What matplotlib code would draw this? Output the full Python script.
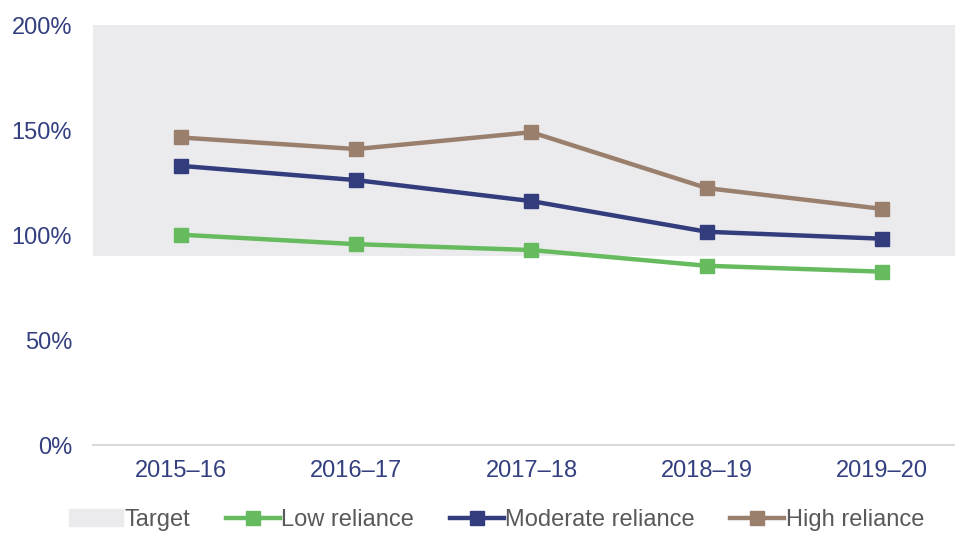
import matplotlib
matplotlib.use('Agg')
import matplotlib.pyplot as plt
import matplotlib.patches as mpatches
from matplotlib.lines import Line2D
from matplotlib.ticker import FuncFormatter

plt.rcParams['font.family'] = ['Liberation Sans', 'DejaVu Sans']

YEARS = ['2015–16', '2016–17', '2017–18', '2018–19', '2019–20']
LOW = [100.2, 95.7, 92.9, 85.4, 82.6]
MODERATE = [133.0, 126.2, 116.2, 101.6, 98.3]
HIGH = [146.5, 141.0, 149.0, 122.4, 112.5]
TARGET_LOW = 90
TARGET_HIGH = 200

COLORS = {
    'target': '#EBEBED',
    'low': '#66BB5E',
    'moderate': '#333D7D',
    'high': '#9B7F6D',
}
TICK_COLOR = '#333F7F'
LEGEND_COLOR = '#595959'

fig = plt.figure(figsize=(9.55, 5.35), dpi=100)
ax = fig.add_axes([0.0974, 0.168, 1 - 0.0974, 0.953 - 0.168])

x = list(range(len(YEARS)))
xlim = (-0.5, 4.415)
ax.fill_between(xlim, TARGET_LOW, TARGET_HIGH, color=COLORS['target'],
                linewidth=0, zorder=0)

series = [('Low reliance', LOW, 'low'),
          ('Moderate reliance', MODERATE, 'moderate'),
          ('High reliance', HIGH, 'high')]
for label, vals, key in series:
    ax.plot(x, vals, color=COLORS[key], lw=3.2, marker='s', ms=10.5,
            solid_joinstyle='round', zorder=3)

ax.set_xlim(*xlim)
ax.set_ylim(0, 200)
ax.set_yticks([0, 50, 100, 150, 200])
ax.yaxis.set_major_formatter(FuncFormatter(lambda v, p: '{:.0f}%'.format(v)))
ax.set_xticks(x)
ax.set_xticklabels(YEARS)
ax.tick_params(axis='both', length=0, labelsize=17, colors=TICK_COLOR)
ax.tick_params(axis='y', pad=15)
ax.tick_params(axis='x', pad=11)
for side in ['top', 'right', 'left']:
    ax.spines[side].set_visible(False)
ax.spines['bottom'].set_color('#D9D9D9')
ax.spines['bottom'].set_linewidth(1.5)

handles = [mpatches.Patch(color=COLORS['target'], label='Target')]
for label, vals, key in series:
    handles.append(Line2D([0], [0], color=COLORS[key], lw=3.2, marker='s',
                          ms=10.5, label=label))
leg = fig.legend(handles=handles, loc='center', bbox_to_anchor=(0.52, 0.028),
                 ncol=4, frameon=False, fontsize=17, handlelength=2.3,
                 handletextpad=0.05, columnspacing=1.5, borderpad=0)
for t in leg.get_texts():
    t.set_color(LEGEND_COLOR)

fig.savefig('out.png', dpi=100)
